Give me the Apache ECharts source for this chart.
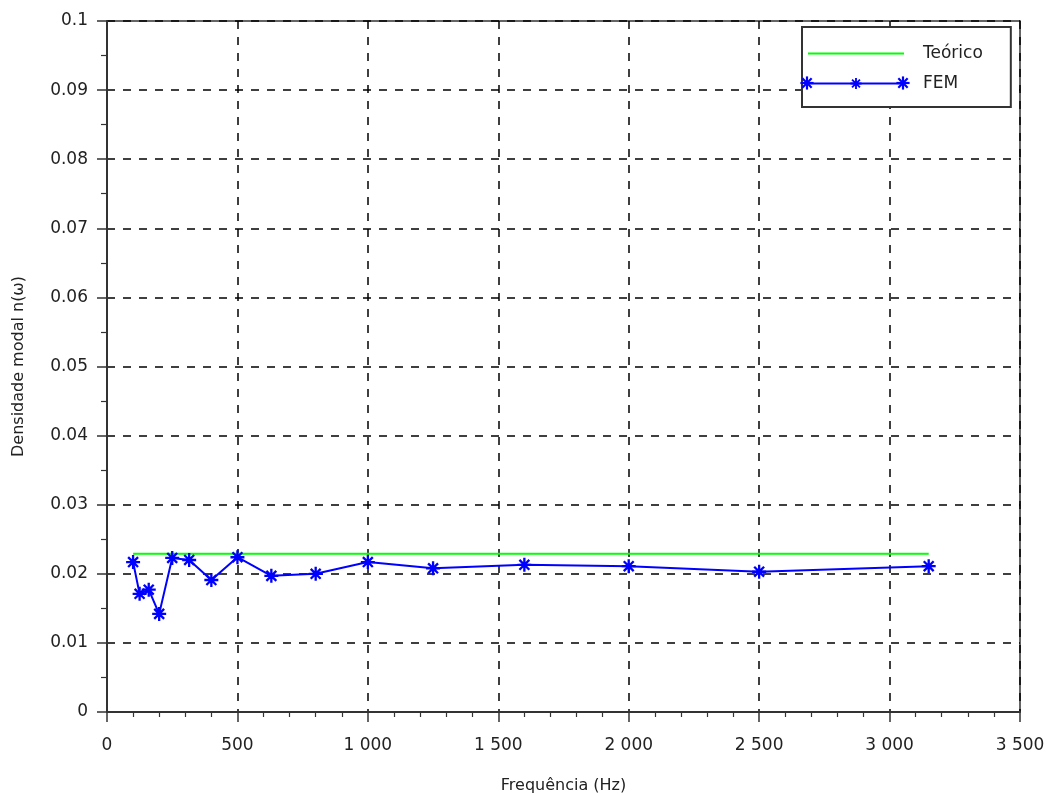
<!DOCTYPE html>
<html>
<head>
<meta charset="utf-8">
<script src="https://cdn.jsdelivr.net/npm/echarts@6/dist/echarts.min.js"></script>
<style>html,body{margin:0;padding:0;background:#fff}#c{width:1056px;height:794px}</style>
</head>
<body>
<div id="c"></div>
<script>
// ---- data ----
var freqs = [100, 125, 160, 200, 250, 315, 400, 500, 630, 800, 1000, 1250, 1600, 2000, 2500, 3150];
var femValues = [0.0217, 0.0171, 0.0177, 0.0142, 0.0223, 0.0220, 0.0191, 0.0224, 0.0197, 0.0200, 0.0217, 0.0208, 0.0213, 0.0211, 0.0203, 0.0211];
var teoricoFreqs = [100, 3150];
var teoricoValues = [0.0229, 0.0229];
var seriesNames = ['Teórico', 'FEM'];
var xAxisTitle = 'Frequência (Hz)';
var yAxisTitle = 'Densidade modal n(ω)';

// ---- chart ----
var BARS = [
  [[-6, -1], [6, -1], [6, 1], [-6, 1]],
  [[-1, -6], [1, -6], [1, 6], [-1, 6]],
  [[-3.54, -4.95], [4.95, 3.54], [3.54, 4.95], [-4.95, -3.54]],
  [[-4.95, 3.54], [3.54, -4.95], [4.95, -3.54], [-3.54, 4.95]]
];
var STAR = 'path://' + BARS.map(function (b) {
  return 'M' + b.map(function (p) { return p[0] + ',' + p[1]; }).join('L') + 'Z';
}).join('');

function starGraphic(cx, cy, s) {
  return {
    type: 'group', x: cx, y: cy, z: 100,
    children: BARS.map(function (b) {
      return { type: 'polygon', z: 100, shape: { points: b.map(function (p) { return [p[0] * s, p[1] * s]; }) }, style: { fill: '#0000ff' } };
    })
  };
}

function zip(a, b) { return a.map(function (v, i) { return [v, b[i]]; }); }
function fmtX(v) {
  if (v >= 1000) { var r = String(v % 1000); while (r.length < 3) r = '0' + r; return Math.floor(v / 1000) + ' ' + r; }
  return String(v);
}
function fmtY(v) { return String(parseFloat(v.toFixed(3))); }

var FONT = "'DejaVu Sans', 'Liberation Sans', sans-serif";
var TXT = '#222';
var GREEN = '#00ff00';
var BLUE = '#0000ff';

var chart = echarts.init(document.getElementById('c'), null, { renderer: 'canvas' });
chart.setOption({
  animation: false,
  backgroundColor: '#fff',
  grid: { left: 107, top: 21, right: 36, bottom: 82, outerBoundsMode: 'none', containLabel: false, show: true, borderColor: '#333', borderWidth: 1.5, backgroundColor: 'transparent' },
  xAxis: {
    type: 'value', min: 0, max: 3500, interval: 500,
    name: xAxisTitle, nameLocation: 'middle', nameGap: 66,
    nameTextStyle: { fontFamily: FONT, fontSize: 16, color: TXT },
    axisLine: { show: true, onZero: false, lineStyle: { color: '#333', width: 2 } },
    axisTick: { show: true, length: 10, lineStyle: { color: '#333', width: 1.5 } },
    minorTick: { show: true, splitNumber: 5, length: 5, lineStyle: { color: '#333', width: 1.2 } },
    axisLabel: { formatter: fmtX, margin: 25, fontFamily: FONT, fontSize: 17, color: TXT },
    splitLine: { show: true, lineStyle: { color: '#000', width: 1.5, type: [8, 8] } }
  },
  yAxis: {
    type: 'value', min: 0, max: 0.1, interval: 0.01,
    name: yAxisTitle, nameLocation: 'middle', nameGap: 80,
    nameTextStyle: { fontFamily: FONT, fontSize: 16, color: TXT },
    axisLine: { show: true, onZero: false, lineStyle: { color: '#333', width: 2 } },
    axisTick: { show: true, length: 10, lineStyle: { color: '#333', width: 1.5 } },
    minorTick: { show: true, splitNumber: 2, length: 6, lineStyle: { color: '#333', width: 1.2 } },
    axisLabel: { formatter: fmtY, margin: 19, fontFamily: FONT, fontSize: 17, color: TXT },
    splitLine: { show: true, lineStyle: { color: '#000', width: 1.5, type: [8, 8] } }
  },
  legend: {
    left: 802, top: 27, orient: 'vertical',
    data: [{ name: seriesNames[0], itemStyle: { opacity: 0 } }, { name: seriesNames[1] }],
    itemWidth: 96, itemHeight: 14, itemGap: 13,
    padding: [18, 28, 15, 5],
    borderColor: '#333', borderWidth: 2, backgroundColor: '#fff',
    textStyle: { fontFamily: FONT, fontSize: 17, color: TXT, padding: [0, 0, 0, 14], lineHeight: 14 }
  },
  series: [
    {
      name: seriesNames[0], type: 'line', data: zip(teoricoFreqs, teoricoValues),
      symbol: 'none', showSymbol: false,
      lineStyle: { color: GREEN, width: 2 }, itemStyle: { color: GREEN }, z: 3
    },
    {
      name: seriesNames[1], type: 'line', data: zip(freqs, femValues),
      symbol: STAR, symbolSize: 14,
      lineStyle: { color: BLUE, width: 2 }, itemStyle: { color: BLUE }, z: 4
    }
  ],
  graphic: [starGraphic(807, 83, 1.1), starGraphic(903, 83, 1.1)]
});
</script>
</body>
</html>
